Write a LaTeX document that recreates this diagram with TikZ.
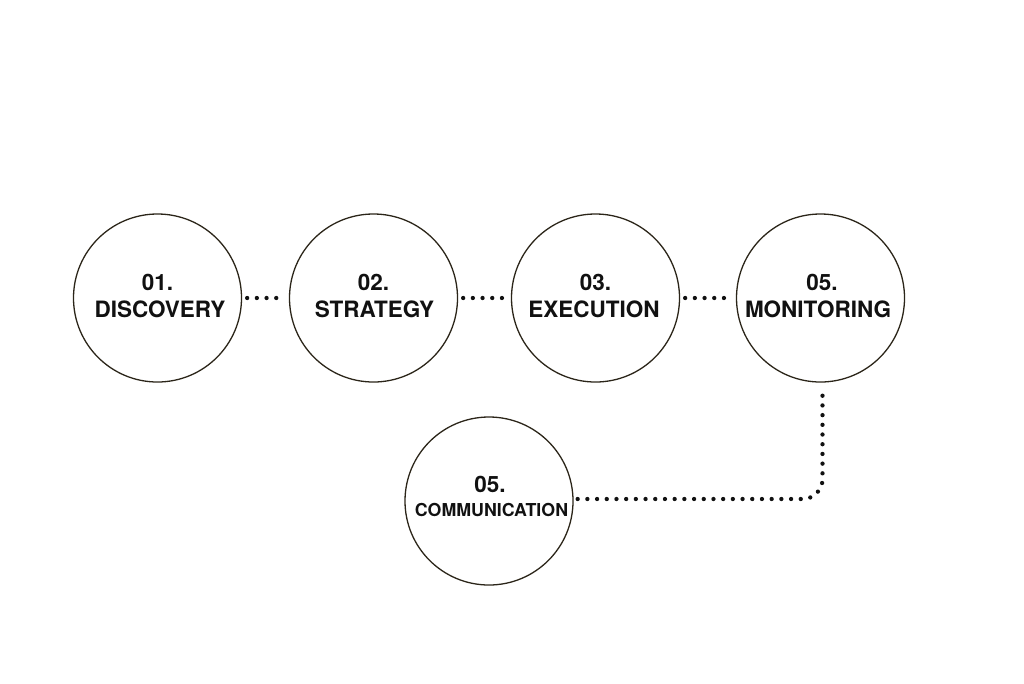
\documentclass[tikz,border=0pt]{standalone}
\usepackage{fontspec}
\setmainfont{TeX Gyre Heros}
\definecolor{ring}{HTML}{2B2519}
\definecolor{ink}{HTML}{111111}
\tikzset{
  circ/.style={circle, draw=ring, line width=1.3pt, minimum size=168pt, inner sep=0pt},
  lbl/.style={anchor=base, inner sep=0pt, text=ink, font=\bfseries\fontsize{22.5}{27}\selectfont},
  lblsmall/.style={lbl, font=\bfseries\fontsize{17.8}{27}\selectfont},
  dotline/.style={draw=ink, line width=4.3pt, line cap=round, dash pattern=on 0pt off 9.7pt},
}
\begin{document}
\begin{tikzpicture}[x=1pt,y=-1pt]
\useasboundingbox (0,0) rectangle (1024,683);
\node[circ] (n1) at (157.5,298) {};
\node[circ] (n2) at (373.5,298) {};
\node[circ] (n3) at (595.5,298) {};
\node[circ] (n4) at (820.5,298) {};
\node[circ] (n5) at (489,501) {};
\node[lbl] (a1) at (157.5,290) {01.};
\node[lbl] (b1) at (160,317) {DISCOVERY};
\node[lbl] (a2) at (373.5,290) {02.};
\node[lbl] (b2) at (374.5,317) {STRATEGY};
\node[lbl] (a3) at (595.5,290) {03.};
\node[lbl] (b3) at (594,317) {EXECUTION};
\node[lbl] (a4) at (822,290) {05.};
\node[lbl] (b4) at (818,317) {MONITORING};
\node[lbl] (a5) at (490,492) {05.};
\node[lblsmall] (b5) at (491.5,516.5) {COMMUNICATION};
\draw[dotline, shorten <=5pt, shorten >=5pt] (n1.east) -- (n2.west);
\draw[dotline, shorten <=5pt, shorten >=5pt] (n2.east) -- (n3.west);
\draw[dotline, shorten <=5pt, shorten >=5pt] (n3.east) -- (n4.west);
\coordinate (c4) at ([xshift=2pt,yshift=-7pt]n4.south);
\coordinate (c5) at ([xshift=4pt,yshift=2pt]n5.east);
\draw[dotline, rounded corners=20pt] (c5) -| (c4);
\end{tikzpicture}
\end{document}
